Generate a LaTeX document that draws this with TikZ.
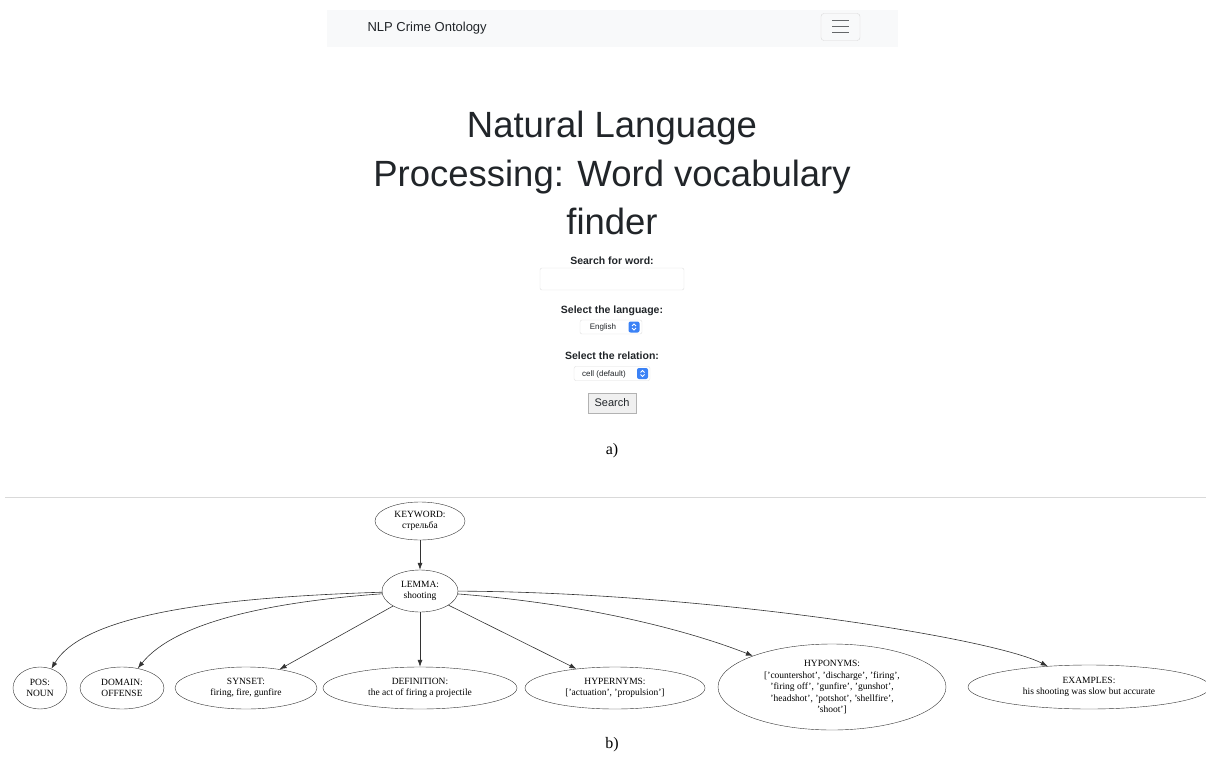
\documentclass[tikz,border=0pt]{standalone}
\usepackage{fontspec}
\setmainfont{Liberation Serif}
\setsansfont{Liberation Sans}
\usetikzlibrary{shapes.geometric,arrows.meta}
\definecolor{navbg}{HTML}{F8F9FA}
\definecolor{uitext}{HTML}{212529}
\definecolor{selblue}{HTML}{3B82F6}
\definecolor{edgecol}{HTML}{333333}

\begin{document}
\begin{tikzpicture}[x=1pt, y=-1pt, >={Latex[length=7pt,width=5pt]},
	titleline/.style={anchor=base, font=\sffamily\fontsize{36.5}{44}\selectfont, text=uitext},
	formlabel/.style={font=\sffamily\bfseries\fontsize{10.5}{12}\selectfont, text=uitext},
	field/.style={draw=gray!25, fill=white, rounded corners=2pt, inner sep=0pt},
	selicon/.style={fill=selblue, rounded corners=2pt, minimum width=11pt, minimum height=11pt, inner sep=0pt},
	word/.style={ellipse, draw=edgecol, inner sep=0pt, align=center, font=\fontsize{9.5}{11.5}\selectfont},
	link/.style={->, draw=edgecol, semithick}]
	\useasboundingbox (0,0) rectangle (1206,767);

	%barra di navigazione
	\fill[navbg] (327,10) rectangle (898,47);
	\node[anchor=west, font=\sffamily\fontsize{13}{15}\selectfont, text=uitext] (brand) at (364,28) {NLP Crime Ontology};
	\node[draw=gray!30, rounded corners=3pt, minimum width=39pt, minimum height=27pt] (toggler) at (840.5,27) {};
	\foreach \yy in {-6,0,6}
		\draw[uitext!70, line width=1pt] ([xshift=-8.5pt, yshift=\yy pt]toggler.center) -- ++(17,0);

	%titolo
	\node[titleline] (title1) at (612,138) {Natural Language};
	\node[titleline] (title2) at (612,187) {Processing: Word vocabulary};
	\node[titleline] (title3) at (612,235) {finder};

	%modulo
	\node[formlabel] (wordlbl) at (612,261) {Search for word:};
	\node[field, minimum width=144pt, minimum height=22pt] (wordbox) at (612,279) {};
	\node[formlabel] (langlbl) at (612,311) {Select the language:};
	\node[field, minimum width=62pt, minimum height=14pt] (langsel) at (611,327) {};
	\node[font=\sffamily\fontsize{8}{9}\selectfont, text=uitext] (langtxt) at (603,327.5) {English};
	\node[selicon] (langicon) at (634,327) {};
	\node[formlabel] (rellbl) at (612,356) {Select the relation:};
	\node[field, minimum width=76pt, minimum height=14pt] (relsel) at (612,373.5) {};
	\node[font=\sffamily\fontsize{8}{9}\selectfont, text=uitext] (reltxt) at (604,374) {cell (default)};
	\node[selicon] (relicon) at (642.5,373.5) {};
	\foreach \ic in {langicon,relicon} {
		\draw[white, line width=0.8pt] ([xshift=-2pt, yshift=1pt]\ic.center) -- ([yshift=3pt]\ic.center) -- ([xshift=2pt, yshift=1pt]\ic.center);
		\draw[white, line width=0.8pt] ([xshift=-2pt, yshift=-1pt]\ic.center) -- ([yshift=-3pt]\ic.center) -- ([xshift=2pt, yshift=-1pt]\ic.center);
	}
	\node[draw=gray!60, fill=gray!12, minimum width=48pt, minimum height=20pt, inner sep=0pt,
		font=\sffamily\fontsize{11}{13}\selectfont, text=uitext] (searchbtn) at (612,403) {Search};
	\node[font=\fontsize{16}{18}\selectfont] (capa) at (612,451) {a)};

	%separatore
	\draw[gray!30] (5,497) -- (1206,497);

	%grafo
	\node[word, minimum width=90pt, minimum height=38pt] (kw) at (420,521) {KEYWORD:\\стрельба};
	\node[word, minimum width=76pt, minimum height=42pt] (lemma) at (420,591) {LEMMA:\\shooting};
	\node[word, minimum width=54pt, minimum height=42pt] (pos) at (40,688) {POS:\\NOUN};
	\node[word, minimum width=84pt, minimum height=42pt] (domain) at (122,688) {DOMAIN:\\OFFENSE};
	\node[word, minimum width=142pt, minimum height=42pt] (synset) at (246,688) {SYNSET:\\firing, fire, gunfire};
	\node[word, minimum width=194pt, minimum height=42pt] (definition) at (420,688) {DEFINITION:\\the act of firing a projectile};
	\node[word, minimum width=180pt, minimum height=42pt] (hypernyms) at (615,688) {HYPERNYMS:\\{}['actuation', 'propulsion']};
	\node[word, minimum width=228pt, minimum height=86pt] (hyponyms) at (832,687)
		{HYPONYMS:\\{}['countershot', 'discharge', 'firing',\\'firing off', 'gunfire', 'gunshot',\\'headshot', 'potshot', 'shellfire',\\'shoot']};
	\node[word, minimum width=242pt, minimum height=44pt] (examples) at (1089,687) {EXAMPLES:\\his shooting was slow but accurate};

	\draw[link] (kw) -- (lemma);
	\draw[link] (lemma) .. controls (230,597) and (85,612) .. (pos);
	\draw[link] (lemma) .. controls (270,602) and (175,622) .. (domain);
	\draw[link] (lemma) -- (synset);
	\draw[link] (lemma) -- (definition);
	\draw[link] (lemma) -- (hypernyms);
	\draw[link] (lemma) .. controls (600,605) and (700,635) .. (hyponyms);
	\draw[link] (lemma) .. controls (700,592) and (990,637) .. (examples);

	\node[font=\fontsize{16}{18}\selectfont] (capb) at (612,745) {b)};
\end{tikzpicture}
\end{document}
